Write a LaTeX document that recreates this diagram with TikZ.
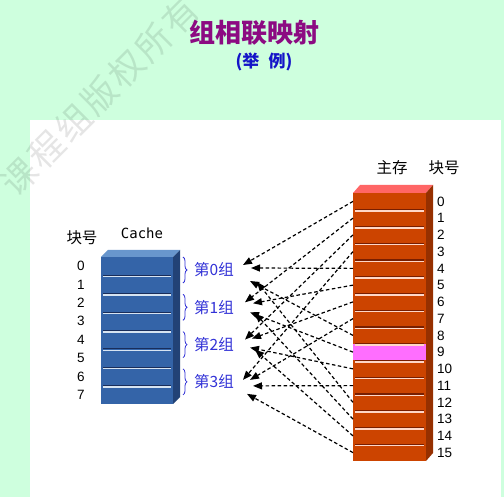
\documentclass[tikz,border=0pt]{standalone}
\usepackage{fontspec}
\setmainfont{Liberation Sans}
\newfontfamily\cjk{Noto Sans CJK SC}
\newfontfamily\monof{DejaVu Sans Mono}
\usetikzlibrary{calc,positioning,arrows.meta,decorations.pathreplacing}
\definecolor{bggreen}{RGB}{206,255,222}
\definecolor{titlepurple}{RGB}{140,10,130}
\definecolor{titleblue}{RGB}{20,20,200}
\definecolor{grpblue}{RGB}{50,50,215}
\definecolor{memfront}{RGB}{204,68,0}
\definecolor{memtop}{RGB}{255,102,102}
\definecolor{memside}{RGB}{150,48,0}
\definecolor{memdark}{RGB}{120,30,0}
\definecolor{memlight}{RGB}{255,215,200}
\definecolor{hitpink}{RGB}{255,110,255}
\definecolor{cachefront}{RGB}{52,100,168}
\definecolor{cachetop}{RGB}{104,150,205}
\definecolor{cacheside}{RGB}{34,66,118}
\definecolor{cachedark}{RGB}{25,45,90}
\definecolor{cachelight}{RGB}{215,228,242}
\tikzset{
  memrow/.style={fill=memfront,minimum width=73pt,minimum height=16.75pt,inner sep=0pt,outer sep=0pt},
  cacherow/.style={fill=cachefront,minimum width=72pt,minimum height=18.375pt,inner sep=0pt,outer sep=0pt},
  numlabel/.style={font=\fontsize{13.5}{13.5}\selectfont,inner sep=0pt},
  cjklabel/.style={font=\cjk\fontsize{15.5}{15.5}\selectfont,inner sep=0pt},
  grouplabel/.style={text=grpblue,font=\cjk\fontsize{15.5}{15.5}\selectfont,inner sep=0pt},
  grpbrace/.style={draw=grpblue,line width=0.8pt,decorate,decoration={brace,amplitude=4pt}},
  mapline/.style={line width=1.2pt,dash pattern=on 3.5pt off 2.5pt,-{Triangle[length=9pt,width=7pt]}},
  watermark/.style={font=\cjk\fontsize{35}{35}\selectfont,opacity=0.1,inner sep=0pt},
}

\begin{document}
\begin{tikzpicture}[x=1pt,y=-1pt]
  \useasboundingbox (0,0) rectangle (504,497);
  \fill[bggreen] (0,0) rectangle (504,497);
  \fill[white] (30,120) rectangle (501,497);
  \node[watermark,rotate=45] (wm) at (100,96) {课\hspace{3pt}程\hspace{3pt}组\hspace{3pt}版\hspace{3pt}权\hspace{3pt}所\hspace{3pt}有};
  % title
  \node[font=\cjk\bfseries\fontsize{26}{26}\selectfont,text=titlepurple] (title) at (254,33) {组相联映射};
  \node[font=\cjk\bfseries\fontsize{17}{17}\selectfont,text=titleblue] (subtitle) at (264,62) {(举\hspace{0.55em}例)};
  % cache
  \foreach \i in {0,...,7}{
    \node[cacherow] (c\i) at (137,{257+(\i+0.5)*18.375}) {};
    \node[numlabel] (cn\i) at (81,{257+(\i+0.5)*18.375}) {\i};}
  \fill[cachetop] (c0.north west) -- ++(7,-7) -- ++(72,0) -- (c0.north east) -- cycle;
  \fill[cacheside] (c0.north east) -- ++(7,-7) -- ($(c7.south east)+(7,-7)$) -- (c7.south east) -- cycle;
  \foreach \i in {1,...,7}{
    \draw[cachedark,line width=1.2pt] ([xshift=2pt]c\i.north west) -- ([xshift=-2pt]c\i.north east);
    \draw[cachelight,line width=1.3pt] ([xshift=2pt,yshift=-1.4pt]c\i.north west) -- ([xshift=-2pt,yshift=-1.4pt]c\i.north east);}
  \node[cjklabel] (chead) at (82,238) {块号};
  \node[font=\monof\fontsize{14}{14}\selectfont,inner sep=0pt] (cname) at (142,233) {Cache};
  % groups
  \foreach \g in {0,...,3}{
    \node[grouplabel] (g\g) at (214,{270+37.3*\g}) {第\g 组};
    \draw[grpbrace] (183,{257+37.3*\g}) -- (183,{283+37.3*\g});}
  % main memory
  \foreach \j in {0,...,15}{
    \node[memrow] (m\j) at (389.5,{193+(\j+0.5)*16.75}) {};
    \node[numlabel,anchor=west] (mn\j) at (437,{193+(\j+0.5)*16.75}) {\j};}
  \fill[hitpink] (m9.north west) rectangle (m9.south east);
  \fill[memtop] (m0.north west) -- ++(7,-8) -- ++(73,0) -- (m0.north east) -- cycle;
  \fill[memside] (m0.north east) -- ++(7,-8) -- ($(m15.south east)+(7,-8)$) -- (m15.south east) -- cycle;
  \foreach \j in {1,...,15}{
    \draw[memdark,line width=1.2pt] ([xshift=2pt]m\j.north west) -- ([xshift=-2pt]m\j.north east);
    \draw[memlight,line width=1.3pt] ([xshift=2pt,yshift=-1.4pt]m\j.north west) -- ([xshift=-2pt,yshift=-1.4pt]m\j.north east);}
  \node[cjklabel] (mhead) at (392,168) {主存};
  \node[cjklabel] (mnum) at (444,168) {块号};
  % mapping j -> group j mod 4
  \foreach \j/\g/\dx/\dy in {0/0/7/-5, 4/0/15/-2, 8/0/14/11, 12/0/21/12,
      1/1/9/-5, 5/1/17/-4, 9/1/14/5, 13/1/19/6,
      2/2/9/-5, 6/2/16/-6, 10/2/14/3, 14/2/19/5,
      3/3/7/-2, 7/3/14/-2, 11/3/17/4, 15/3/11/12}
    \draw[mapline] (m\j.west) -- ($(g\g)+({22+\dx},\dy)$);
\end{tikzpicture}
\end{document}
